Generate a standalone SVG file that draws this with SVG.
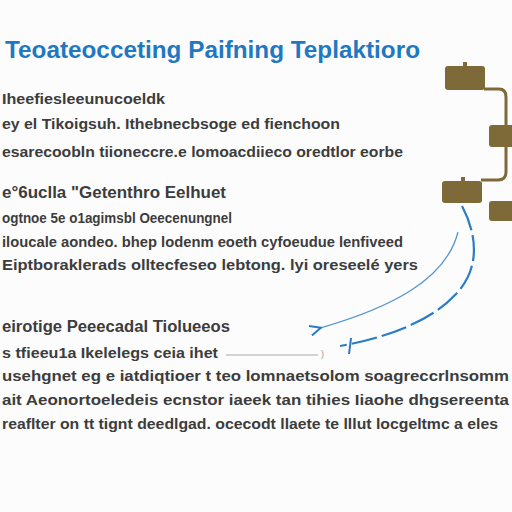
<svg xmlns="http://www.w3.org/2000/svg" width="512" height="512" viewBox="0 0 512 512">
<defs>
<style>
.t{font-family:"Liberation Sans",Arial,sans-serif;font-weight:bold;fill:#3c3c3c;font-size:15px}
.h{font-family:"Liberation Sans",Arial,sans-serif;font-weight:bold;fill:#1f78c1;font-size:23px}
.box{fill:#7d6a38}
.conn{fill:none;stroke:#7d6a38;stroke-width:3}
.blue{fill:none;stroke:#2a7cc7}
</style>
<marker id="ah" viewBox="0 0 12 12" refX="2" refY="6" markerWidth="12" markerHeight="12" markerUnits="userSpaceOnUse" orient="auto-start-reverse">
<path d="M12,1 L1,6 L12,11" fill="none" stroke="#2a7cc7" stroke-width="2"/>
</marker>
</defs>
<rect width="512" height="512" fill="#fcfcfc"/>
<text class="h" x="5" y="58" textLength="415" lengthAdjust="spacingAndGlyphs">Teoateocceting Paifning Teplaktioro</text>
<g id="text-block">
<text class="t" x="2" y="104" textLength="163" lengthAdjust="spacingAndGlyphs">Iheefiesleeunucoeldk</text>
<text class="t" x="2" y="129" textLength="338" lengthAdjust="spacingAndGlyphs">ey el Tikoigsuh. Ithebnecbsoge ed fienchoon</text>
<text class="t" x="2" y="157" textLength="401" lengthAdjust="spacingAndGlyphs">esarecoobln tiioneccre.e lomoacdiieco oredtlor eorbe</text>
<text class="t" x="2" y="198" style="font-size:17px" textLength="224" lengthAdjust="spacingAndGlyphs">e°6uclla "Getenthro Eelhuet</text>
<text class="t" x="2" y="223" textLength="230" lengthAdjust="spacingAndGlyphs">ogtnoe 5e o1agimsbl Oeecenungnel</text>
<text class="t" x="2" y="247" textLength="401" lengthAdjust="spacingAndGlyphs">iloucale aondeo. bhep lodenm eoeth cyfoeudue lenfiveed</text>
<text class="t" x="2" y="270" textLength="416" lengthAdjust="spacingAndGlyphs">Eiptboraklerads olltecfeseo lebtong. lyi oreseelé yers</text>
<text class="t" x="2" y="332" style="font-size:16px" textLength="228" lengthAdjust="spacingAndGlyphs">eirotige Peeecadal Tiolueeos</text>
<text class="t" x="2" y="358" textLength="216" lengthAdjust="spacingAndGlyphs">s tfieeu1a Ikelelegs ceia ihet</text>
<text class="t" x="2" y="381" textLength="507" lengthAdjust="spacingAndGlyphs">usehgnet eg e iatdiqtioer t teo lomnaetsolom soagreccrlnsomm</text>
<text class="t" x="2" y="405" textLength="507" lengthAdjust="spacingAndGlyphs">ait Aeonortoeledeis ecnstor iaeek tan tihies Iiaohe dhgsereenta</text>
<text class="t" x="2" y="429" textLength="496" lengthAdjust="spacingAndGlyphs">reaflter on tt tignt deedlgad. ocecodt llaete te lllut locgeltmc a eles</text>
</g>
<g id="connectors">
<path class="conn" d="M484,89 H499 Q506,89 506,97 V172 Q506,180 498,180 H481"/>
<path class="blue" stroke-width="1.3" stroke-opacity="0.8" d="M458,232 C446,280 390,308 320,328" marker-end="url(#ah)"/>
<path class="blue" stroke-width="2.2" stroke-dasharray="26,5" d="M462,206 C478,236 480,270 455,295 C430,322 385,338 340,346"/>
<path class="blue" stroke-width="2" d="M351,338 L349,354"/>
<line x1="226" y1="355" x2="318" y2="355" stroke="#aaa" stroke-width="1"/>
<text x="321" y="357" style="font-family:'Liberation Sans',sans-serif;font-size:9px;fill:#999">)</text>
</g>
<g id="node-1"><rect class="box" x="445" y="66" width="40" height="24" rx="3"/><rect class="box" x="463" y="62" width="4" height="5"/></g>
<g id="node-2"><rect class="box" x="489" y="125" width="26" height="22" rx="3"/></g>
<g id="node-3"><rect class="box" x="442" y="181" width="40" height="22" rx="3"/><rect class="box" x="461" y="177" width="4" height="5"/></g>
<g id="node-4"><rect class="box" x="489" y="201" width="26" height="20" rx="3"/></g>
</svg>
